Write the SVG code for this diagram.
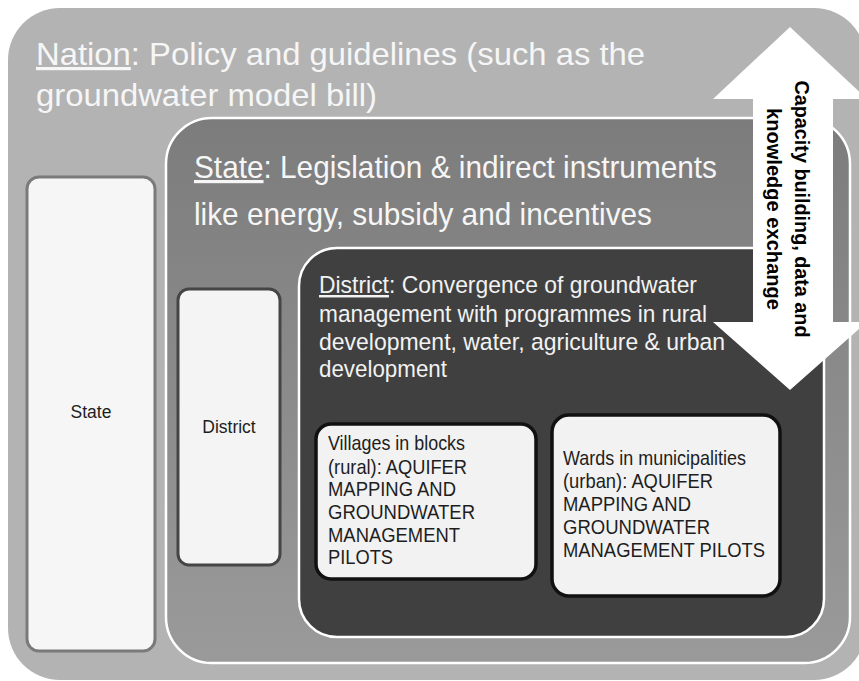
<svg xmlns="http://www.w3.org/2000/svg" width="859" height="681" viewBox="0 0 859 681" font-family="'Liberation Sans', Arial, Helvetica, sans-serif">
<defs>
<linearGradient id="gState" x1="0" y1="0" x2="0" y2="1">
<stop offset="0" stop-color="#7c7c7c"/>
<stop offset="1" stop-color="#9a9a9a"/>
</linearGradient>
</defs>
<style>
text{font-family:'Liberation Sans', Arial, Helvetica, sans-serif;}
.big{font-size:32px;fill:#f6f6f6;}
.mid{font-size:24.5px;fill:#f2f2f2;}
.box{font-size:21px;fill:#1e1e1e;}
.lbl{font-size:17.5px;fill:#1e1e1e;text-anchor:middle;}
.arr{font-size:21px;font-weight:bold;fill:#000;text-anchor:middle;}
</style>
<rect width="859" height="681" fill="#ffffff"/>
<g id="nation">
<rect x="8" y="8" width="858" height="672" rx="52" fill="#b3b3b3"/>
<text class="big" x="36" y="65" textLength="609" lengthAdjust="spacingAndGlyphs"><tspan text-decoration="underline">Nation</tspan>: Policy and guidelines (such as the</text>
<text class="big" x="36" y="106" textLength="341" lengthAdjust="spacingAndGlyphs">groundwater  model bill)</text>
</g>
<g id="state-column">
<rect x="27" y="177" width="128" height="474" rx="12" fill="#f6f6f6" stroke="#7a7a7a" stroke-width="3"/>
<text class="lbl" x="91" y="418">State</text>
</g>
<g id="state">
<rect x="166" y="118" width="684" height="545" rx="46" fill="url(#gState)" stroke="#ffffff" stroke-width="2.5"/>
<text class="big" x="194" y="178" textLength="523" lengthAdjust="spacingAndGlyphs"><tspan text-decoration="underline">State</tspan>: Legislation &amp; indirect instruments</text>
<text class="big" x="194" y="225" textLength="458" lengthAdjust="spacingAndGlyphs">like energy, subsidy and incentives</text>
</g>
<g id="district-column">
<rect x="178" y="289" width="102" height="276" rx="11" fill="#f4f4f4" stroke="#454545" stroke-width="3"/>
<text class="lbl" x="229" y="433">District</text>
</g>
<g id="district">
<rect x="299" y="248" width="525" height="389" rx="38" fill="#404040" stroke="#ffffff" stroke-width="2.5"/>
<text class="mid" x="319" y="293" textLength="378" lengthAdjust="spacingAndGlyphs"><tspan text-decoration="underline">District</tspan>: Convergence  of groundwater</text>
<text class="mid" x="319" y="322" textLength="388" lengthAdjust="spacingAndGlyphs">management  with programmes  in rural</text>
<text class="mid" x="319" y="350" textLength="406" lengthAdjust="spacingAndGlyphs">development,  water, agriculture  &amp; urban</text>
<text class="mid" x="319" y="377" textLength="128" lengthAdjust="spacingAndGlyphs">development</text>
</g>
<g id="villages">
<rect x="316" y="424" width="220" height="155" rx="15" fill="#f2f2f2" stroke="#111111" stroke-width="3.5"/>
<text class="box" x="328" y="450" textLength="137" lengthAdjust="spacingAndGlyphs">Villages  in blocks</text>
<text class="box" x="328" y="474" textLength="139" lengthAdjust="spacingAndGlyphs">(rural):  AQUIFER</text>
<text class="box" x="328" y="496" textLength="128" lengthAdjust="spacingAndGlyphs">MAPPING AND</text>
<text class="box" x="328" y="519" textLength="147" lengthAdjust="spacingAndGlyphs">GROUNDWATER</text>
<text class="box" x="328" y="542" textLength="132" lengthAdjust="spacingAndGlyphs">MANAGEMENT</text>
<text class="box" x="328" y="564" textLength="65" lengthAdjust="spacingAndGlyphs">PILOTS</text>
</g>
<g id="wards">
<rect x="552" y="415" width="228" height="181" rx="17" fill="#f2f2f2" stroke="#111111" stroke-width="3.5"/>
<text class="box" x="563" y="465" textLength="183" lengthAdjust="spacingAndGlyphs">Wards in municipalities</text>
<text class="box" x="563" y="488" textLength="150" lengthAdjust="spacingAndGlyphs">(urban):  AQUIFER</text>
<text class="box" x="563" y="511" textLength="128" lengthAdjust="spacingAndGlyphs">MAPPING AND</text>
<text class="box" x="563" y="534" textLength="147" lengthAdjust="spacingAndGlyphs">GROUNDWATER</text>
<text class="box" x="563" y="557" textLength="202" lengthAdjust="spacingAndGlyphs">MANAGEMENT PILOTS</text>
</g>
<g id="connectors">
<polygon points="790,27 867,99 833,99 833,322 867,322 790,390 713,322 753,322 753,99 713,99" fill="#ffffff"/>
<text class="arr" transform="translate(795,209) rotate(90)" x="0" y="0" textLength="257" lengthAdjust="spacingAndGlyphs">Capacity building, data and</text>
<text class="arr" transform="translate(767,209) rotate(90)" x="0" y="0" textLength="202" lengthAdjust="spacingAndGlyphs">knowledge exchange</text>
</g>
</svg>
